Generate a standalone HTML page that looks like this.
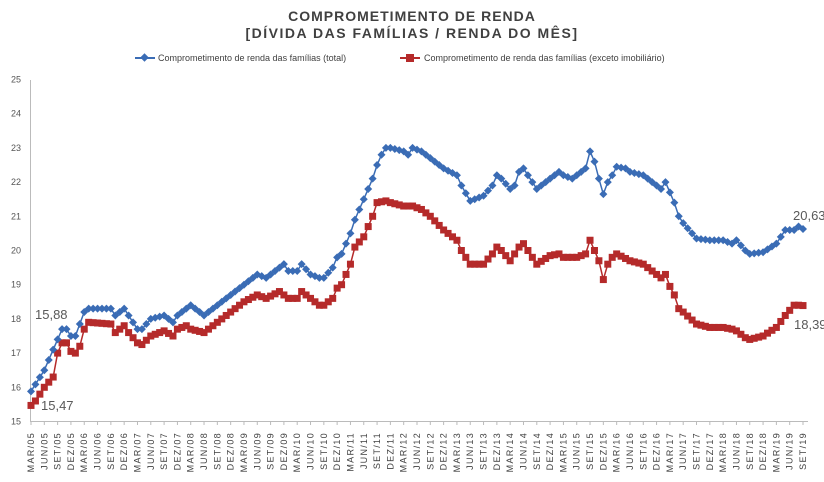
<!DOCTYPE html>
<html><head><meta charset="utf-8"><style>
body{margin:0;background:#fff;}
svg{display:block;font-family:"Liberation Sans",sans-serif;}
</style></head><body>
<svg id="c" width="824" height="482" viewBox="0 0 824 482" xmlns="http://www.w3.org/2000/svg">
<rect width="824" height="482" fill="#fff"/>
<text x="412" y="21" text-anchor="middle" font-size="14" font-weight="bold" fill="#404040" letter-spacing="1">COMPROMETIMENTO DE RENDA</text>
<text x="412" y="38" text-anchor="middle" font-size="14" font-weight="bold" fill="#404040" letter-spacing="1.5">[DÍVIDA DAS FAMÍLIAS / RENDA DO MÊS]</text>
<line x1="135" y1="58" x2="155" y2="58" stroke="#3a6cb5" stroke-width="2"/>
<rect x="141.5" y="54.5" width="6" height="6" fill="#3a6cb5" transform="rotate(45 144.5 57.5)"/>
<text x="158" y="61" font-size="9" fill="#404040">Comprometimento de renda das famílias (total)</text>
<line x1="400" y1="58" x2="420" y2="58" stroke="#b52a2a" stroke-width="2"/>
<rect x="406" y="54" width="8" height="8" fill="#b52a2a"/>
<text x="424" y="61" font-size="9" fill="#404040">Comprometimento de renda das famílias (exceto imobiliário)</text>
<g id="g"></g>
</svg>
<script>
var g=document.getElementById('g'),h='';
function Y(v){return 421.5-(v-15)*34.2;}
function X(i){return 31+i*772/174;}
for(var v=15;v<=25;v++){h+='<text x="11" y="'+(Y(v)+3)+'" font-size="9" fill="#555">'+v+'</text>';}
h+='<line x1="30.5" y1="80" x2="30.5" y2="422" stroke="#bbb"/>';
h+='<line x1="30" y1="421.5" x2="808" y2="421.5" stroke="#bbb"/>';
var mo=['MAR','JUN','SET','DEZ'];
for(var k=0;k<59;k++){var i=k*3,x=X(i);
 var m=mo[k%4];var year=2005+Math.floor(k/4);var lab=m+'/'+String(year%100).padStart(2,'0');
 h+='<line x1="'+x+'" y1="421" x2="'+x+'" y2="425" stroke="#bbb"/>';
 h+='<text transform="translate('+(x+3)+',432) rotate(-90)" text-anchor="end" font-size="9" fill="#404040" letter-spacing="1.3">'+lab+'</text>';}
var A=[[0,15.88],[3,16.5],[6,17.4],[7,17.7],[8,17.7],[9,17.5],[10,17.5],[12,18.2],[13,18.3],[18,18.3],[19,18.1],[21,18.3],[22,18.1],[24,17.7],[25,17.7],[27,18.0],[30,18.1],[32,17.9],[33,18.1],[36,18.4],[39,18.1],[42,18.4],[45,18.7],[48,19.0],[51,19.3],[53,19.2],[56,19.5],[57,19.6],[58,19.4],[60,19.4],[61,19.6],[63,19.3],[65,19.2],[66,19.2],[68,19.5],[69,19.8],[70,19.9],[72,20.5],[73,20.9],[75,21.5],[77,22.1],[78,22.5],[79,22.8],[80,23.0],[81,23.0],[84,22.9],[85,22.8],[86,23.0],[88,22.9],[90,22.7],[93,22.4],[96,22.2],[97,21.9],[99,21.45],[102,21.6],[104,21.9],[105,22.2],[106,22.1],[108,21.8],[109,21.9],[110,22.3],[111,22.4],[112,22.2],[114,21.8],[117,22.1],[119,22.3],[120,22.2],[122,22.1],[123,22.2],[125,22.4],[126,22.9],[127,22.6],[128,22.1],[129,21.65],[130,22.0],[131,22.2],[132,22.45],[134,22.4],[135,22.3],[138,22.2],[141,21.9],[142,21.8],[143,22.0],[144,21.7],[145,21.4],[146,21.0],[147,20.8],[149,20.5],[150,20.35],[153,20.3],[156,20.3],[158,20.2],[159,20.3],[161,20.0],[162,19.9],[165,19.95],[168,20.2],[170,20.6],[172,20.6],[173,20.7],[174,20.63]];
var B=[[0,15.47],[1,15.6],[3,16.0],[5,16.3],[6,17.0],[7,17.3],[8,17.3],[9,17.05],[10,17.0],[11,17.2],[12,17.7],[13,17.9],[18,17.85],[19,17.6],[21,17.8],[22,17.6],[24,17.3],[25,17.25],[27,17.5],[30,17.65],[32,17.5],[33,17.7],[35,17.8],[36,17.7],[39,17.6],[42,17.9],[45,18.2],[48,18.5],[51,18.7],[53,18.6],[56,18.8],[58,18.6],[60,18.6],[61,18.8],[63,18.6],[65,18.4],[66,18.4],[68,18.6],[69,18.9],[70,19.0],[72,19.6],[73,20.1],[75,20.4],[77,21.0],[78,21.4],[80,21.45],[81,21.4],[84,21.3],[86,21.3],[88,21.2],[90,21.0],[93,20.6],[96,20.3],[97,20.0],[99,19.6],[102,19.6],[104,19.9],[105,20.1],[106,20.0],[108,19.7],[110,20.1],[111,20.2],[112,20.0],[114,19.6],[117,19.85],[119,19.9],[120,19.8],[123,19.8],[125,19.9],[126,20.3],[127,20.0],[128,19.7],[129,19.15],[130,19.6],[131,19.8],[132,19.9],[135,19.7],[138,19.6],[141,19.3],[142,19.2],[143,19.3],[144,18.95],[145,18.7],[146,18.3],[147,18.2],[150,17.85],[153,17.75],[156,17.75],[158,17.7],[159,17.65],[161,17.45],[162,17.4],[165,17.5],[168,17.75],[170,18.1],[172,18.4],[173,18.4],[174,18.39]];
function interp(K){var r=[];for(var j=0;j<K.length-1;j++){var a=K[j],b=K[j+1];for(var i=a[0];i<b[0];i++){r.push(a[1]+(b[1]-a[1])*(i-a[0])/(b[0]-a[0]));}}r.push(K[K.length-1][1]);return r;}
function ser(K,col,sq){var d=interp(K),p='';for(var i=0;i<d.length;i++)p+=(i?'L':'M')+X(i).toFixed(1)+' '+Y(d[i]).toFixed(1);
 var s='<path d="'+p+'" fill="none" stroke="'+col+'" stroke-width="1.5"/>';
 for(var i=0;i<d.length;i++){var x=X(i),y=Y(d[i]);
  if(sq)s+='<rect x="'+(x-3.5)+'" y="'+(y-3.5)+'" width="7" height="7" fill="'+col+'"/>';
  else s+='<path d="M'+x+' '+(y-4)+'L'+(x+4)+' '+y+'L'+x+' '+(y+4)+'L'+(x-4)+' '+y+'Z" fill="'+col+'"/>';}
 return s;}
h+=ser(B,'#b52a2a',true);
h+=ser(A,'#3a6cb5',false);
h+='<text x="35" y="319" font-size="13" fill="#595959">15,88</text>';
h+='<text x="41" y="410" font-size="13" fill="#595959">15,47</text>';
h+='<text x="793" y="220" font-size="13" fill="#595959">20,63</text>';
h+='<text x="794" y="329" font-size="13" fill="#595959">18,39</text>';
g.innerHTML=h;
</script>
</body></html>
